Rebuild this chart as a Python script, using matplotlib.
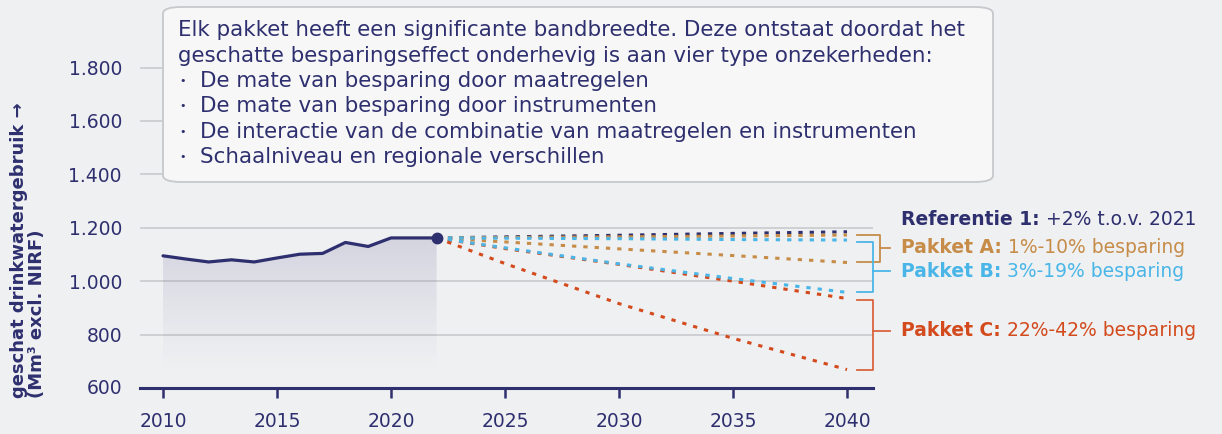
import numpy as np
import matplotlib.pyplot as plt
from matplotlib.patches import FancyBboxPatch
from matplotlib.ticker import FuncFormatter
from matplotlib.transforms import blended_transform_factory

# historisch verbruik (Mm3)
years_hist = [2010, 2011, 2012, 2013, 2014, 2015, 2016, 2017, 2018, 2019, 2020, 2021, 2022]
use_hist = [1095, 1083, 1072, 1080, 1072, 1087, 1101, 1104, 1145, 1130, 1162, 1162, 1162]

# scenario's vanaf 2022
years_proj = [2022, 2025, 2030, 2035, 2040]
ref = [1162, 1166, 1172, 1179, 1185]
pakket_a_hi = [1162, 1164, 1166, 1169, 1173]
pakket_a_lo = [1162, 1147, 1121, 1096, 1070]
pakket_b_hi = [1162, 1161, 1159, 1156, 1154]
pakket_b_lo = [1162, 1125, 1065, 1010, 958]
pakket_c_hi = [1162, 1122, 1063, 1000, 935]
pakket_c_lo = [1162, 1066, 916, 786, 669]

yticks = [600, 800, 1000, 1200, 1400, 1600, 1800]
xticks = [2010, 2015, 2020, 2025, 2030, 2035, 2040]

note_lines = [
    "Elk pakket heeft een significante bandbreedte. Deze ontstaat doordat het",
    "geschatte besparingseffect onderhevig is aan vier type onzekerheden:",
]
note_bullets = [
    "De mate van besparing door maatregelen",
    "De mate van besparing door instrumenten",
    "De interactie van de combinatie van maatregelen en instrumenten",
    "Schaalniveau en regionale verschillen",
]

navy = "#2e2f6e"
tan = "#c68c48"
blue = "#4ab6e8"
red = "#d34b1d"
bg = "#eff0f2"

plt.rcParams['font.family'] = ['DejaVu Sans']

fig = plt.figure(figsize=(12.22, 4.34), dpi=100, facecolor=bg)
ax = fig.add_axes([140 / 1222, 46 / 434, 733 / 1222, 333.8 / 434])
ax.set_facecolor(bg)
ax.set_xlim(2008.99, 2041.14)
ax.set_ylim(600, 1850)

for s in ['top', 'right', 'left']:
    ax.spines[s].set_visible(False)
ax.spines['bottom'].set_color(navy)
ax.spines['bottom'].set_linewidth(2.2)

ax.set_yticks(yticks[1:])
ax.yaxis.set_major_formatter(FuncFormatter(lambda v, p: f"{int(v):,}".replace(",", ".")))
ax.grid(axis='y', color='#c6c7ca', linewidth=1.1)
ax.set_axisbelow(True)
ax.tick_params(axis='y', length=0, pad=13, labelsize=13.5, labelcolor=navy)
ax.set_xticks(xticks)
ax.tick_params(axis='x', length=7, width=1.8, color=navy, pad=10, labelsize=13.5, labelcolor=navy)
# 600 label sits on the axis line
ax.text(2008.99 - 0.78, 600, "600", ha='right', va='center', fontsize=13.5, color=navy)

# gradient fill under the history line
poly = ax.fill_between(years_hist, use_hist, 600, color='none', linewidth=0)
grad = np.zeros((100, 2, 4))
grad[:, :, :3] = np.array([0.18, 0.18, 0.43])
grad[:, :, 3] = np.linspace(0.2, 0.0, 100)[:, None] ** 1.2
im = ax.imshow(grad, extent=[years_hist[0], years_hist[-1], 650, max(use_hist)],
               origin='upper', aspect='auto', zorder=1)
im.set_clip_path(poly.get_paths()[0], transform=ax.transData)

ax.plot(years_hist, use_hist, color=navy, linewidth=2.3, zorder=3, solid_capstyle='round')
ax.plot(years_hist[-1], use_hist[-1], 'o', color=navy, markersize=7.5, zorder=6)

dots = (0, (1.4, 2.3))
for vals, c in [(ref, navy), (pakket_a_hi, tan), (pakket_a_lo, tan),
                (pakket_b_hi, blue), (pakket_c_hi, red), (pakket_b_lo, blue),
                (pakket_c_lo, red)]:
    ax.plot(years_proj, vals, color=c, linewidth=2.2, linestyle=dots, zorder=4)

# brackets
def bracket(x_in, x_v, x_out, y_top, y_bot, y_mid, c):
    ax.plot([x_in, x_v, x_v, x_in], [y_top, y_top, y_bot, y_bot], color=c,
            linewidth=1.3, clip_on=False)
    ax.plot([x_v, x_out], [y_mid, y_mid], color=c, linewidth=1.3, clip_on=False)

bracket(2040.42, 2041.45, 2041.89, pakket_a_hi[-1], pakket_a_lo[-1], 1125, tan)
bracket(2040.42, 2041.12, 2041.89, pakket_b_hi[-1] - 6, pakket_b_lo[-1], 1037, blue)
bracket(2040.42, 2041.12, 2041.89, pakket_c_hi[-1] - 6, pakket_c_lo[-1], 814, "#d9643e")

# labels at the right
tr = blended_transform_factory(fig.transFigure, ax.transData)
labels = [("Referentie 1:", " +2% t.o.v. 2021", 1230, navy),
          ("Pakket A:", " 1%-10% besparing", 1125, tan),
          ("Pakket B:", " 3%-19% besparing", 1037, blue),
          ("Pakket C:", " 22%-42% besparing", 814, red)]
for bold, rest, y, c in labels:
    t = ax.text(901 / 1222, y, bold, transform=tr, fontsize=13.5, fontweight='bold',
                color=c, ha='left', va='center')
    ax.annotate(rest, xy=(1, 0.5), xycoords=t, fontsize=13.5, color=c,
                ha='left', va='center')

# y label
fig.text(28 / 1222, 36 / 434, "geschat drinkwatergebruik →\n(Mm³ excl. NIRF)",
         rotation=90, ha='center', va='bottom', multialignment='left',
         fontsize=13, fontweight='bold', color=navy, linespacing=1.0)

# note box
box = FancyBboxPatch((163 / 1222, 1 - 182 / 434), 830 / 1222, 175 / 434,
                     boxstyle="round,pad=0,rounding_size=0.015",
                     transform=fig.transFigure, facecolor='#f7f7f8',
                     edgecolor='#c7c8cb', linewidth=1.3, zorder=10)
fig.patches.append(box)
line_y = [30, 56, 81, 106, 132, 157]
for i, txt in enumerate(note_lines):
    fig.text(178 / 1222, 1 - line_y[i] / 434, txt, fontsize=15.4, color=navy,
             ha='left', va='center', zorder=11)
for j, txt in enumerate(note_bullets):
    yy = 1 - line_y[j + 2] / 434
    fig.text(179 / 1222, yy, "•", fontsize=8, color=navy, ha='left', va='center', zorder=11)
    fig.text(200 / 1222, yy, txt, fontsize=15.4, color=navy, ha='left', va='center', zorder=11)

fig.savefig("out.png", dpi=100, facecolor=bg)
